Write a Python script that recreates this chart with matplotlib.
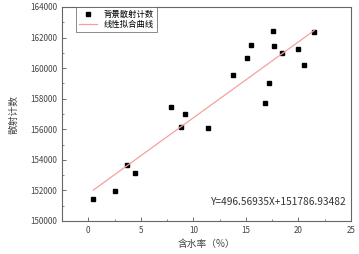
import numpy as np
import matplotlib
matplotlib.use("Agg")
import matplotlib.pyplot as plt
from matplotlib.ticker import MultipleLocator

plt.rcParams['font.family'] = ['Noto Sans CJK SC', 'DejaVu Sans']

# water content (%) and background scatter counts
water = [0.47, 2.5, 3.7, 4.4, 7.9, 8.8, 9.2, 11.4, 13.8, 15.1, 15.5,
         16.8, 17.2, 17.6, 17.7, 18.4, 20.0, 20.5, 21.5]
counts = [151420, 151970, 153690, 153120, 157480, 156170, 156980, 156090,
          159550, 160680, 161515, 157700, 159010, 162450, 161450, 160970,
          161230, 160200, 162360]
slope = 496.56935
intercept = 151786.93482

fig = plt.figure(figsize=(3.59, 2.54), dpi=100)
ax = fig.add_axes([62 / 359, 1 - 221 / 254, (351 - 62) / 359, (221 - 7) / 254])

ax.plot(water, counts, 's', color='black', markersize=3, label='背景散射计数')
fit_x = np.array([min(water), max(water)])
ax.plot(fit_x, slope * fit_x + intercept, color='#f4a0a0', lw=0.9, label='线性拟合曲线')

ax.set_xlim(-2.5, 25)
ax.set_ylim(150000, 164000)
ax.xaxis.set_major_locator(MultipleLocator(5))
ax.xaxis.set_minor_locator(MultipleLocator(2.5))
ax.yaxis.set_major_locator(MultipleLocator(2000))
ax.yaxis.set_minor_locator(MultipleLocator(1000))
ax.tick_params(which='both', direction='in', labelsize=5.8, color='#555555', labelcolor='#444444')
ax.tick_params(which='major', length=3, width=0.6)
ax.tick_params(which='minor', length=1.5, width=0.5)
for s in ax.spines.values():
    s.set_color('#666666')
    s.set_linewidth(0.8)

ax.set_xlabel('含水率（%）', fontsize=7, color='#444444', labelpad=3)
ax.set_ylabel('散射计数', fontsize=7, color='#444444', labelpad=8)

ax.text(0.985, 0.09, f'Y={slope:.5f}X+{intercept:.5f}', transform=ax.transAxes,
        ha='right', va='center', fontsize=7.3, color='#333333')

leg = ax.legend(loc='upper left', bbox_to_anchor=(0.05, 1.0), fontsize=6,
                numpoints=1, frameon=True, fancybox=False, edgecolor='#555555',
                borderpad=0.3, handlelength=2.2, labelspacing=0.2, borderaxespad=0)
leg.get_frame().set_linewidth(0.6)

fig.savefig('out.png', dpi=100)
